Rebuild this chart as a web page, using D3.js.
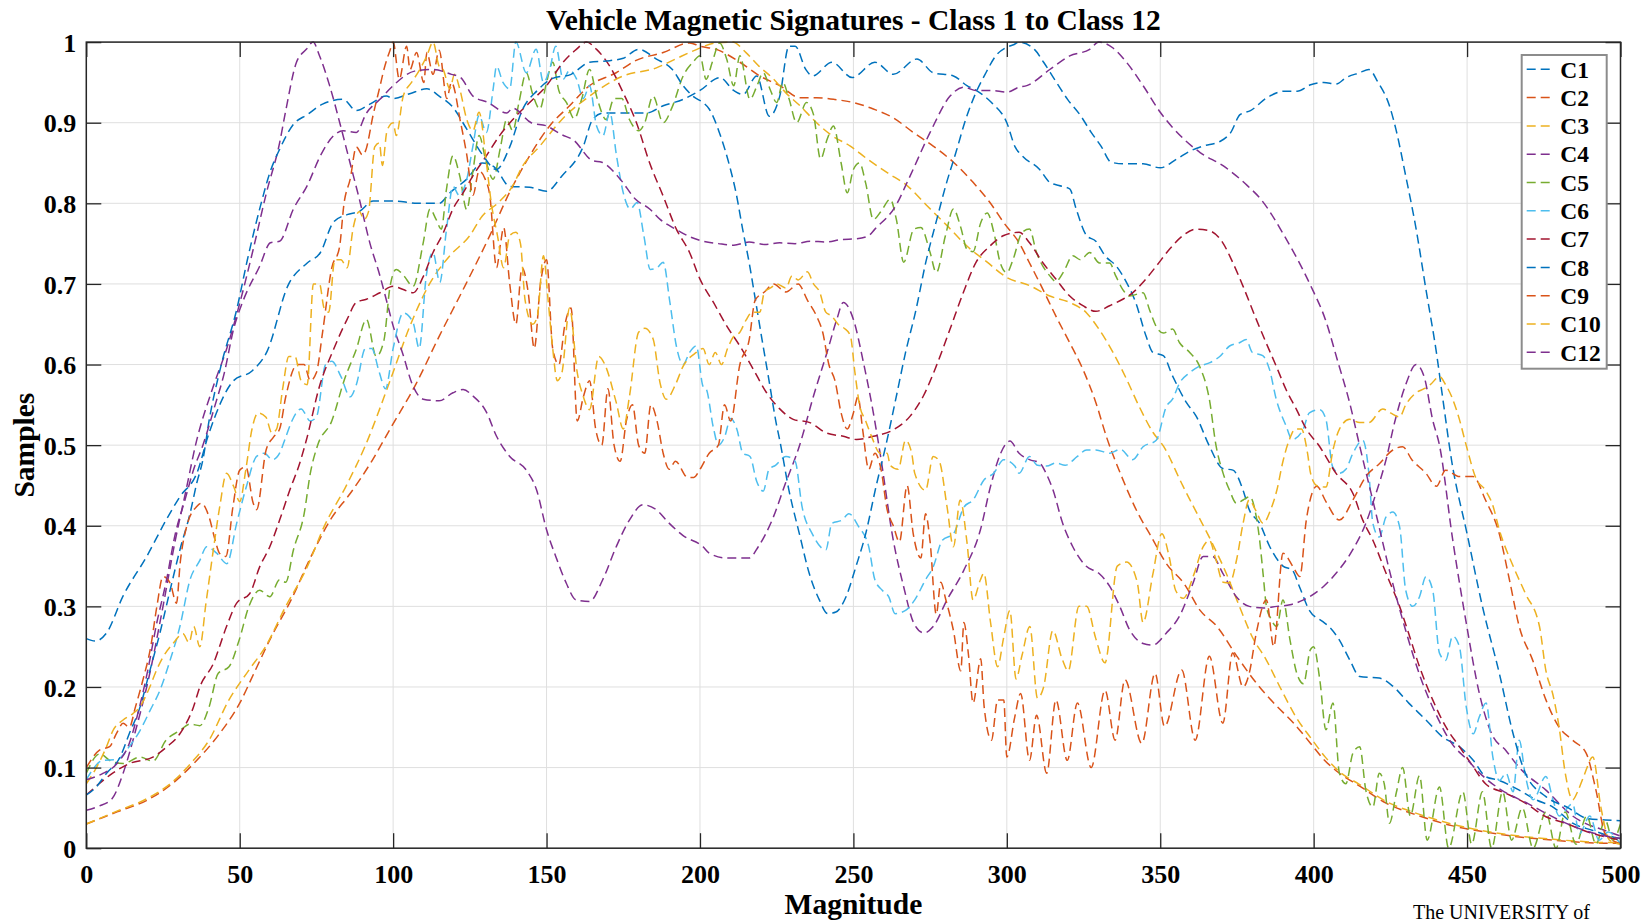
<!DOCTYPE html>
<html>
<head>
<meta charset="utf-8">
<script src="https://cdn.jsdelivr.net/npm/d3@7"></script>
<style>
  body { margin: 0; background: #fff; }
  svg { display: block; }
  text { font-family: "Liberation Serif", "Times New Roman", serif; font-weight: bold; fill: #000; }
</style>
</head>
<body>
<svg id="chart" width="1650" height="924"></svg>
<script>
// Axis ticks
const xTicks = [0, 50, 100, 150, 200, 250, 300, 350, 400, 450, 500];
const yTicks = [0, 0.1, 0.2, 0.3, 0.4, 0.5, 0.6, 0.7, 0.8, 0.9, 1];

// Legend names, in plotting order
const seriesNames = ["C1", "C2", "C3", "C4", "C5", "C6", "C7", "C8", "C9", "C10", "C12"];

// Sampled signatures: [magnitude, sample]
const c1 = [[0,0.26],[3,0.257],[6.6,0.267],[12,0.313],[19.7,0.362],[26,0.407],[30.5,0.436],[36,0.465],[40,0.515],[48,0.58],[54,0.592],[59,0.617],[65.6,0.697],[72,0.726],[76.3,0.739],[80.6,0.777],[85,0.786],[89,0.79],[93.5,0.803],[100,0.803],[108,0.8],[115,0.8],[118.5,0.813],[124,0.83],[129,0.85],[133,0.845],[138,0.821],[144.5,0.82],[150,0.815],[155,0.834],[162,0.871],[165,0.904],[168.4,0.912],[175,0.912],[182.5,0.912],[188,0.921],[194.5,0.929],[200,0.94],[206.5,0.956],[211,0.94],[214,0.935],[218.5,0.958],[222.6,0.908],[226,0.933],[229,0.995],[231,0.995],[234.5,0.966],[236.7,0.958],[243,0.975],[249.6,0.956],[257,0.975],[263,0.96],[270.7,0.979],[276,0.962],[282.6,0.958],[287,0.946],[290,0.94],[295,0.925],[300,0.9],[302.7,0.87],[305,0.859],[310.7,0.842],[314,0.826],[317,0.822],[320.5,0.818],[322.6,0.793],[326,0.76],[329,0.753],[332,0.735],[335.7,0.722],[339,0.702],[342,0.677],[345.4,0.635],[347.6,0.615],[351,0.611],[354,0.586],[358.5,0.553],[361.7,0.536],[366,0.499],[370.4,0.471],[373.7,0.469],[377,0.444],[379,0.42],[382.4,0.403],[385.7,0.374],[390,0.35],[393,0.345],[395.4,0.324],[398.6,0.295],[403,0.281],[405,0.275],[408.4,0.258],[411.7,0.234],[415,0.213],[421.4,0.211],[425.8,0.201],[431,0.18],[436.6,0.159],[442,0.138],[447.5,0.126],[452,0.109],[456,0.089],[460.5,0.084],[467,0.072],[472.5,0.06],[478,0.051],[484.4,0.031],[491,0.022],[497.5,0.014],[500,0.012]];

const c2 = [[0,0.03],[10,0.045],[20,0.06],[28,0.08],[35,0.105],[43,0.14],[50,0.18],[55,0.22],[60,0.26],[67,0.31],[73,0.36],[80,0.41],[86,0.44],[93,0.48],[99,0.52],[107.6,0.577],[115,0.635],[122.8,0.693],[131.5,0.76],[138,0.814],[144.5,0.859],[151,0.896],[157.5,0.921],[164,0.946],[172.7,0.962],[179,0.977],[188,0.987],[196.6,0.999],[200,0.995],[206,0.99],[213,0.975],[219.5,0.958],[226,0.946],[232.6,0.931],[238,0.931],[243.5,0.929],[250,0.925],[256.5,0.917],[263,0.906],[269.5,0.888],[276,0.871],[282.6,0.851],[289,0.826],[294.5,0.801],[299,0.776],[304,0.751],[307.4,0.726],[311.8,0.693],[316,0.66],[320.5,0.627],[324.8,0.594],[329,0.553],[332.5,0.51],[337,0.465],[342.8,0.415],[347,0.387],[352,0.353],[357.8,0.328],[363,0.295],[368.5,0.275],[375,0.238],[381.5,0.204],[387,0.18],[393.5,0.155],[399,0.13],[403.3,0.11],[408.4,0.093],[415,0.077],[423.6,0.056],[434.5,0.04],[445,0.028],[456,0.02],[467,0.014],[478,0.01],[497.5,0.006],[500,0.006]];

const c3 = [[0,0.03],[10,0.046],[20,0.062],[28,0.082],[34,0.105],[40,0.134],[46.5,0.184],[53,0.221],[58.4,0.25],[65,0.3],[71.5,0.345],[78,0.403],[84.5,0.448],[91,0.5],[99,0.58],[105.4,0.647],[112,0.701],[118.5,0.735],[125,0.76],[129,0.784],[134,0.8],[139,0.822],[142,0.845],[147.8,0.871],[155,0.904],[164,0.933],[175,0.958],[185.8,0.968],[192,0.979],[199,0.991],[205,0.999],[210.6,1.0],[215,0.987],[219,0.971],[224,0.954],[228,0.937],[232.6,0.921],[238,0.9],[243,0.884],[249,0.871],[254.5,0.855],[261,0.838],[267.5,0.822],[274,0.797],[280.6,0.772],[287,0.747],[293.6,0.727],[300,0.708],[307.4,0.698],[314,0.685],[320.5,0.677],[326,0.664],[330,0.644],[334.6,0.615],[339,0.582],[343,0.549],[347.6,0.516],[351,0.499],[357.3,0.45],[362.7,0.41],[367,0.378],[371.5,0.341],[375.8,0.3],[380,0.262],[384.5,0.234],[389,0.2],[394.2,0.163],[399.6,0.134],[403.8,0.113],[408.4,0.095],[415,0.079],[423.6,0.058],[434.5,0.042],[445,0.03],[456,0.021],[467,0.015],[478,0.011],[497.5,0.007],[500,0.007]];

const c4 = [[0,0.047],[4,0.052],[8.5,0.062],[12,0.093],[16,0.145],[20.7,0.217],[25,0.3],[29,0.382],[32.5,0.444],[35.6,0.5],[41.4,0.573],[45.7,0.619],[50,0.676],[54.4,0.743],[58.7,0.813],[63,0.875],[65,0.915],[68.5,0.975],[71.7,0.991],[73.9,1.0],[76,0.983],[79.3,0.946],[82.6,0.9],[85.9,0.851],[89,0.805],[92.4,0.751],[95.7,0.71],[98,0.677],[100,0.648],[103,0.615],[106.5,0.573],[109.8,0.557],[115,0.555],[119.5,0.565],[122.8,0.569],[126,0.561],[130.4,0.541],[133.7,0.511],[138,0.486],[143.4,0.469],[146.7,0.445],[150,0.395],[153,0.362],[156.4,0.329],[159.6,0.308],[164,0.306],[168.3,0.333],[172.7,0.374],[177,0.407],[181.4,0.426],[185.7,0.42],[190,0.403],[194.4,0.388],[201,0.374],[203,0.366],[208.5,0.36],[216,0.36],[219,0.374],[223.5,0.407],[227.8,0.452],[232.4,0.499],[237,0.561],[241.4,0.615],[244.6,0.656],[246.7,0.677],[250,0.656],[253.3,0.602],[256.5,0.54],[258.7,0.49],[263,0.382],[266.4,0.324],[269.7,0.279],[273,0.267],[276,0.275],[280.5,0.308],[286,0.345],[291.4,0.395],[294.7,0.449],[298,0.49],[301,0.505],[304,0.49],[307.4,0.482],[310.7,0.478],[312.8,0.465],[315,0.445],[318.2,0.403],[321.5,0.374],[325.8,0.35],[330,0.341],[333.5,0.325],[336.8,0.3],[340,0.271],[344.4,0.254],[347.6,0.252],[352,0.267],[356.3,0.288],[360.7,0.329],[364,0.362],[367,0.362],[370.4,0.341],[374.8,0.312],[379,0.3],[383.6,0.298],[388,0.3],[392.3,0.302],[396.7,0.308],[403.3,0.325],[407.3,0.341],[412.7,0.37],[417,0.403],[420.3,0.44],[423.6,0.482],[426.5,0.53],[430,0.575],[433.4,0.6],[436,0.585],[438.8,0.531],[441,0.5],[445.3,0.383],[449.7,0.28],[454,0.192],[458,0.142],[462.7,0.121],[467,0.1],[475.7,0.072],[484.4,0.04],[496.4,0.02],[500,0.015]];

const c5 = [[0,0.093],[4.4,0.117],[8,0.108],[12,0.105],[17.5,0.113],[21.7,0.108],[26,0.134],[30.5,0.146],[33.8,0.154],[37,0.152],[40,0.175],[43,0.217],[46.5,0.225],[49.8,0.258],[53,0.3],[56.5,0.32],[59.8,0.312],[63,0.333],[65,0.33],[67.5,0.37],[71,0.415],[73,0.465],[75.4,0.5],[80,0.53],[84,0.58],[88,0.619],[91.3,0.656],[94.5,0.61],[97,0.63],[99,0.697],[101,0.718],[103.5,0.71],[106.5,0.697],[109.8,0.751],[112,0.793],[114,0.78],[115.7,0.768],[117.4,0.818],[119.5,0.859],[121.7,0.834],[124,0.792],[126,0.84],[128,0.884],[130.4,0.85],[132.6,0.83],[135,0.87],[137,0.904],[139,0.89],[141,0.925],[143.4,0.962],[145.5,0.935],[147.8,0.917],[150,0.95],[152,0.975],[154,0.94],[156.5,0.925],[159,0.905],[161.5,0.93],[164,0.966],[166.5,0.93],[169.4,0.904],[172,0.93],[174.5,0.93],[177,0.904],[180,0.89],[182,0.9],[184.7,0.933],[188,0.9],[191,0.92],[194.5,0.958],[197.7,0.975],[200,0.983],[202,0.954],[204,0.975],[206.4,0.999],[208.7,0.979],[211,0.946],[213,0.983],[216.3,0.929],[218.5,0.945],[220.6,0.962],[223,0.94],[225,0.925],[227,0.95],[229,0.93],[231.5,0.9],[234.7,0.925],[237,0.91],[239.3,0.855],[241.5,0.88],[243.5,0.896],[246,0.85],[248,0.813],[250,0.842],[252,0.85],[254,0.825],[256.5,0.78],[259,0.79],[262,0.805],[264,0.78],[266.4,0.727],[269.7,0.768],[272,0.77],[275,0.739],[277,0.714],[280,0.76],[282.6,0.793],[285,0.77],[287,0.743],[289,0.74],[291.5,0.776],[293.6,0.788],[296,0.76],[297.8,0.727],[300,0.714],[302,0.73],[305,0.764],[307.4,0.768],[309.6,0.74],[314,0.71],[316,0.703],[318.5,0.715],[321.5,0.735],[324,0.73],[327,0.739],[330.2,0.726],[333.5,0.726],[335.5,0.71],[337.8,0.693],[340,0.685],[344.4,0.689],[346.5,0.668],[348.7,0.647],[351,0.639],[354,0.644],[356.3,0.627],[359.6,0.615],[362.8,0.598],[366,0.557],[368.2,0.499],[370.5,0.465],[372.6,0.444],[374.8,0.428],[377,0.432],[379.2,0.436],[381.3,0.411],[382.4,0.382],[383.5,0.341],[384.6,0.3],[386,0.285],[388,0.275],[390,0.308],[392.3,0.258],[394.5,0.217],[396.7,0.204],[398.9,0.246],[400,0.25],[402,0.209],[404,0.147],[406.3,0.18],[408.4,0.093],[410.5,0.08],[412.8,0.118],[415,0.126],[417,0.072],[419.3,0.051],[421.4,0.093],[423,0.08],[424.7,0.031],[427,0.07],[429,0.1],[431.5,0.04],[434.5,0.09],[437,0.01],[441,0.076],[444,0.0],[448.6,0.07],[451.5,0.005],[455,0.07],[458,0.0],[461.6,0.07],[464.5,0.01],[468,0.05],[471.5,0.0],[475.7,0.045],[479,0.0],[482,0.045],[485.5,0.005],[489,0.04],[492,0.005],[495,0.035],[497.5,0.01],[500,0.03]];

const c6 = [[0,0.085],[5.5,0.109],[10,0.11],[14,0.126],[17.5,0.146],[20.8,0.171],[24,0.196],[27.3,0.233],[30.5,0.275],[33.8,0.333],[37,0.357],[39.2,0.374],[42.5,0.366],[45.8,0.353],[49,0.403],[52.2,0.449],[55.5,0.486],[58,0.49],[60.7,0.482],[63,0.49],[65,0.51],[67,0.53],[70,0.545],[73,0.53],[75,0.535],[78,0.6],[80,0.604],[83,0.585],[86,0.56],[88,0.575],[91,0.62],[93,0.62],[95.5,0.59],[97.5,0.57],[100,0.62],[103.3,0.664],[106.5,0.652],[108.5,0.62],[110.8,0.71],[113,0.739],[115.2,0.702],[117.4,0.768],[119.5,0.821],[121.5,0.81],[124,0.83],[126,0.871],[128,0.909],[130.4,0.888],[132.6,0.942],[133.7,0.97],[135.8,0.95],[138,0.942],[140,1.0],[143.4,0.962],[146.6,0.991],[149,0.95],[151,0.966],[153,0.995],[155.4,0.954],[157.5,0.965],[159.8,0.954],[162,0.93],[164,0.946],[166.3,0.896],[168.4,0.884],[170.6,0.913],[172.8,0.859],[175,0.813],[177.3,0.793],[179.5,0.801],[181.7,0.76],[183.8,0.718],[186,0.72],[188,0.727],[190.2,0.677],[192.3,0.623],[194.5,0.6],[196.6,0.615],[198.8,0.623],[201,0.573],[202,0.57],[204.4,0.521],[206,0.5],[208,0.51],[210,0.533],[212,0.52],[214,0.49],[216.3,0.486],[218.5,0.455],[220.6,0.443],[222.5,0.47],[224.6,0.475],[228,0.486],[231,0.48],[233.3,0.423],[236.6,0.39],[241,0.37],[243,0.403],[246.3,0.407],[248.5,0.415],[251.7,0.399],[255,0.374],[257,0.333],[259.4,0.32],[261.5,0.312],[263.6,0.291],[267,0.295],[270,0.308],[273.5,0.333],[276,0.349],[279,0.382],[282.6,0.39],[286,0.423],[289,0.432],[292.6,0.457],[295.7,0.465],[299,0.482],[302.6,0.474],[304,0.465],[307.4,0.486],[310,0.475],[313,0.474],[316,0.478],[319,0.475],[323,0.486],[326,0.494],[329,0.494],[333.6,0.49],[337,0.495],[341,0.482],[344.4,0.498],[348.7,0.506],[352,0.548],[354,0.557],[356.3,0.577],[359.6,0.59],[362.8,0.598],[366,0.602],[369.4,0.61],[372.6,0.623],[375.8,0.627],[378,0.631],[380,0.615],[383.4,0.611],[385.6,0.594],[387.8,0.557],[391,0.524],[393,0.507],[396.5,0.519],[398.6,0.54],[402,0.544],[404,0.532],[406.2,0.473],[408.4,0.465],[410.5,0.47],[412.8,0.49],[416,0.506],[418,0.465],[419.3,0.403],[421.4,0.386],[423.6,0.411],[425.8,0.417],[428,0.399],[430,0.32],[432.3,0.3],[434.5,0.312],[436.6,0.337],[438.8,0.32],[441,0.242],[443,0.233],[445.3,0.263],[447.5,0.25],[449.7,0.176],[452,0.142],[454,0.163],[456.2,0.18],[458.4,0.113],[460.5,0.084],[462.7,0.093],[465,0.07],[467,0.134],[469,0.09],[471.5,0.06],[475.7,0.089],[478,0.06],[480,0.04],[484.4,0.055],[486.6,0.018],[490,0.04],[493,0.01],[496,0.02],[500,0.005]];

const c7 = [[0,0.066],[8.6,0.093],[14,0.105],[21.7,0.113],[26,0.125],[30.5,0.142],[34.9,0.175],[37,0.2],[41.4,0.229],[45.7,0.275],[49,0.304],[53.3,0.316],[56.5,0.349],[59.8,0.374],[63,0.407],[66.3,0.444],[69.5,0.477],[71.7,0.506],[76,0.573],[80.6,0.619],[85,0.656],[88,0.677],[91.3,0.681],[95.7,0.689],[100,0.697],[103.3,0.693],[106.5,0.689],[109.8,0.709],[113,0.739],[116.3,0.763],[119.5,0.793],[122.8,0.813],[126,0.834],[130.4,0.859],[134.7,0.884],[139,0.904],[144.5,0.925],[150,0.946],[155.4,0.975],[159.7,0.991],[163,1.0],[166.3,0.991],[170.6,0.97],[175,0.937],[179.3,0.9],[183.6,0.85],[188,0.809],[192.3,0.768],[196.6,0.739],[200,0.706],[204.4,0.677],[208.7,0.648],[213,0.623],[217.4,0.594],[221.7,0.565],[226,0.545],[230.4,0.532],[235.8,0.528],[241.3,0.515],[246.7,0.511],[251,0.507],[256.5,0.511],[263,0.519],[268.5,0.536],[272.8,0.561],[277,0.598],[281.5,0.644],[285.8,0.689],[290,0.727],[294.5,0.747],[299,0.76],[304,0.764],[307.4,0.751],[311.8,0.726],[316,0.706],[320.5,0.685],[324.8,0.673],[329,0.666],[333.5,0.673],[337.8,0.681],[341,0.689],[344.4,0.702],[348.7,0.722],[353,0.743],[357.4,0.76],[361.7,0.768],[366,0.766],[370.4,0.751],[373.7,0.726],[377,0.697],[381.3,0.656],[384.5,0.627],[387.8,0.598],[391,0.569],[394.3,0.545],[397.6,0.52],[402,0.498],[407.3,0.465],[412.8,0.44],[416,0.407],[419.3,0.382],[423.6,0.341],[428,0.3],[431,0.266],[434.5,0.225],[438.8,0.184],[443,0.151],[447.5,0.126],[452,0.101],[456,0.08],[462.7,0.068],[469,0.056],[475.7,0.039],[482,0.031],[491,0.018],[497.5,0.012],[500,0.01]];

const c8 = [[0,0.066],[3,0.075],[6.6,0.093],[11,0.113],[14,0.142],[17.5,0.175],[20.7,0.22],[24,0.267],[27.3,0.32],[30.5,0.37],[33.8,0.415],[36,0.453],[38,0.482],[40,0.53],[44,0.6],[49,0.668],[52.5,0.73],[56.5,0.793],[60,0.84],[63,0.867],[67.5,0.898],[72,0.91],[77,0.923],[83.7,0.929],[88,0.915],[92.4,0.923],[97.8,0.933],[100,0.93],[105.4,0.936],[111,0.942],[115,0.933],[119.5,0.919],[124,0.892],[129,0.861],[133.6,0.842],[138,0.87],[142,0.915],[147,0.94],[152,0.955],[158,0.96],[164,0.975],[170.6,0.977],[175,0.98],[180,0.991],[185.8,0.979],[191,0.966],[194.5,0.946],[198,0.932],[201,0.925],[203,0.917],[206.3,0.888],[209.6,0.847],[211.7,0.814],[213.9,0.768],[216,0.727],[218.2,0.677],[220.4,0.627],[222.6,0.578],[224.8,0.528],[226,0.506],[229,0.444],[232.4,0.39],[235.6,0.341],[238.9,0.308],[241.6,0.291],[244.3,0.293],[247.6,0.312],[250.8,0.349],[254,0.39],[257.4,0.449],[260.6,0.5],[263.8,0.557],[267,0.615],[270.4,0.668],[273.6,0.727],[276.9,0.776],[280.1,0.822],[283.4,0.863],[286.6,0.904],[289.9,0.937],[293.2,0.962],[296.4,0.983],[299.7,0.993],[302.4,0.997],[304,1.0],[309,0.991],[312,0.975],[315.5,0.954],[319.8,0.929],[324,0.909],[327.5,0.888],[330.7,0.871],[334,0.851],[338,0.849],[344.4,0.849],[350,0.844],[355.4,0.855],[359.8,0.865],[364,0.871],[369.6,0.877],[373,0.888],[376,0.91],[379.4,0.915],[384.8,0.931],[390.3,0.939],[394.6,0.939],[399,0.947],[403.3,0.95],[407.3,0.948],[410.6,0.956],[415,0.962],[418,0.966],[421,0.95],[424.7,0.921],[426.8,0.892],[430,0.834],[433.4,0.768],[436.6,0.693],[440,0.615],[442,0.56],[445,0.48],[450,0.39],[455,0.3],[460.5,0.217],[465,0.142],[469,0.093],[475.7,0.064],[483,0.05],[489,0.037],[495,0.035],[500,0.034]];

const c9 = [[0,0.1],[4.4,0.122],[7.6,0.126],[9.8,0.142],[12,0.155],[14,0.15],[16,0.175],[18.4,0.208],[21,0.25],[23,0.3],[25,0.337],[27.3,0.329],[29.4,0.304],[30.6,0.354],[32.7,0.399],[36,0.424],[37.5,0.428],[40,0.411],[42,0.382],[43.4,0.366],[45.5,0.362],[47.8,0.424],[50,0.469],[52,0.473],[54.4,0.428],[55.5,0.42],[58.6,0.494],[61,0.51],[63,0.52],[65,0.56],[68.7,0.6],[71,0.6],[73,0.58],[75,0.59],[77,0.64],[80,0.72],[82.5,0.745],[84,0.8],[86,0.83],[88,0.87],[90,0.86],[91,0.865],[93.5,0.91],[95.7,0.945],[97,0.966],[99,0.99],[100,1.0],[102,0.954],[104.4,0.995],[105.5,0.966],[107.6,0.987],[110,0.95],[111,0.987],[113,0.96],[115,0.99],[117.5,0.93],[119,0.95],[122,0.9],[124,0.86],[126,0.81],[128,0.84],[130,0.83],[131.5,0.81],[133.7,0.72],[135,0.75],[136,0.77],[138,0.7],[140,0.65],[142,0.72],[144,0.69],[146,0.62],[148,0.7],[150,0.73],[152,0.62],[154,0.6],[156,0.65],[158,0.67],[160,0.53],[162,0.56],[164,0.58],[166,0.52],[168,0.5],[170,0.57],[172,0.5],[174,0.48],[176,0.53],[178,0.55],[180,0.5],[182,0.49],[184,0.55],[186,0.53],[188,0.49],[190,0.47],[192,0.48],[196,0.46],[198,0.46],[200,0.47],[203,0.49],[206,0.5],[208,0.55],[210,0.53],[213,0.6],[216,0.63],[218,0.68],[221,0.69],[224,0.7],[228,0.69],[232,0.7],[235,0.68],[238,0.66],[240,0.64],[242,0.6],[244,0.58],[246,0.54],[248,0.52],[250,0.54],[251.5,0.56],[253,0.52],[255,0.47],[257,0.49],[259,0.47],[261,0.42],[263,0.4],[265,0.38],[267.5,0.45],[269.5,0.39],[272,0.36],[273.5,0.415],[275,0.38],[277,0.29],[278.5,0.33],[280,0.31],[282.6,0.27],[285,0.22],[286,0.28],[287.5,0.24],[289,0.18],[291.5,0.235],[292.6,0.176],[295,0.134],[297,0.184],[299,0.184],[300,0.113],[302.6,0.163],[304.5,0.192],[307.4,0.109],[309.7,0.165],[313,0.093],[316,0.184],[319.7,0.109],[323,0.18],[327.5,0.1],[332,0.196],[335.3,0.134],[338.5,0.209],[344,0.13],[348.3,0.217],[351.4,0.151],[357,0.221],[361.4,0.134],[366,0.238],[370.4,0.155],[373.6,0.242],[377,0.2],[379,0.217],[381.3,0.267],[384.6,0.308],[387,0.25],[390,0.366],[393.3,0.349],[395.5,0.337],[397.6,0.407],[401,0.449],[404,0.43],[408.4,0.407],[412.8,0.432],[417,0.461],[421.4,0.477],[425.8,0.494],[429,0.498],[432,0.482],[436.6,0.465],[440,0.449],[443,0.469],[447.5,0.461],[452,0.461],[456,0.432],[460.5,0.39],[463.8,0.333],[467,0.275],[471.4,0.233],[475.7,0.184],[480,0.15],[484.4,0.134],[488.8,0.118],[492,0.072],[495,0.018],[499.6,0.006]];

const c10 = [[0,0.08],[3.3,0.1],[6.6,0.126],[8.7,0.146],[12,0.159],[15.2,0.167],[17.4,0.175],[20.7,0.2],[22.9,0.221],[25,0.237],[28.3,0.254],[31.5,0.266],[33.5,0.255],[35,0.275],[37,0.25],[39,0.304],[41.4,0.37],[43.5,0.424],[45.7,0.465],[48,0.449],[50,0.43],[52,0.47],[54,0.52],[56,0.54],[58.5,0.535],[60.5,0.515],[62,0.52],[64,0.57],[66,0.61],[68,0.61],[70,0.58],[72,0.575],[74,0.7],[76,0.7],[77.5,0.67],[79,0.665],[81,0.73],[83,0.73],[85,0.72],[87,0.77],[89,0.79],[90.5,0.78],[92,0.79],[94,0.87],[95.5,0.875],[96.5,0.847],[98,0.89],[100,0.9],[101,0.884],[103.3,0.933],[106,0.95],[108.7,0.966],[111,0.983],[113,1.0],[115,0.97],[116.3,0.966],[118.5,0.942],[120,0.96],[121.7,0.942],[124,0.904],[126,0.89],[128,0.913],[130.4,0.85],[132,0.8],[134,0.76],[136,0.72],[138,0.76],[140,0.764],[141.5,0.75],[143,0.68],[145.5,0.65],[147,0.66],[149,0.735],[150.5,0.68],[152,0.62],[153.5,0.58],[155,0.59],[157.5,0.67],[160,0.59],[162,0.56],[164,0.544],[167,0.61],[169,0.6],[172.7,0.553],[175,0.52],[177,0.56],[180,0.64],[182,0.645],[184.7,0.632],[187,0.577],[189,0.557],[192,0.575],[194.4,0.597],[198.8,0.615],[201,0.62],[203,0.6],[205,0.615],[207,0.6],[209,0.62],[211,0.635],[213,0.64],[215,0.655],[217,0.665],[219.5,0.665],[221,0.69],[223,0.695],[225,0.7],[228,0.695],[230,0.71],[232,0.705],[235,0.715],[237,0.7],[239,0.69],[241,0.665],[243,0.66],[245,0.65],[247,0.645],[249,0.636],[250.5,0.59],[252,0.55],[254,0.53],[256,0.51],[258.7,0.49],[261,0.49],[262,0.475],[264.6,0.47],[267,0.506],[269,0.49],[270,0.465],[273.5,0.444],[276,0.486],[278,0.48],[280.5,0.424],[282.6,0.374],[284.8,0.432],[287,0.38],[289,0.308],[291.4,0.333],[292.5,0.341],[294.7,0.28],[297,0.225],[299,0.262],[301,0.295],[303,0.21],[305,0.24],[307.5,0.275],[310,0.186],[312,0.2],[315,0.27],[318,0.235],[320,0.22],[323.5,0.3],[326,0.3],[329,0.26],[332,0.23],[336,0.35],[339,0.355],[342.5,0.33],[344.4,0.28],[347.6,0.34],[350.5,0.39],[353,0.36],[355,0.32],[357.5,0.31],[361,0.34],[364,0.374],[366,0.382],[368,0.36],[370.5,0.33],[372.6,0.329],[375,0.36],[377,0.403],[379,0.432],[381,0.42],[383.5,0.403],[386,0.42],[388,0.444],[390,0.48],[392,0.506],[394,0.52],[396,0.52],[398,0.49],[399,0.465],[401,0.45],[404,0.448],[406.3,0.494],[408.4,0.52],[411.7,0.532],[415,0.528],[418,0.528],[422.5,0.545],[425,0.54],[428,0.535],[430,0.55],[433.4,0.565],[436,0.57],[438,0.575],[441,0.585],[443,0.575],[445,0.56],[447.5,0.532],[449.7,0.5],[453,0.458],[456,0.444],[458.4,0.425],[460.5,0.395],[465,0.35],[469,0.316],[473.6,0.275],[475.7,0.22],[478,0.19],[480,0.15],[482,0.093],[484.4,0.06],[486,0.07],[488,0.089],[491,0.113],[493.6,0.051],[496.4,0.01],[500,0.005]];

const c12 = [[0,0.085],[5,0.092],[10,0.105],[14,0.13],[17,0.17],[20,0.22],[23,0.28],[26,0.33],[29,0.39],[32,0.43],[35,0.47],[38,0.5],[42,0.55],[45,0.59],[48,0.644],[51.2,0.68],[56.5,0.722],[60,0.751],[63,0.753],[67.5,0.793],[72,0.822],[76.3,0.859],[80.6,0.884],[83.7,0.89],[88,0.888],[91.3,0.912],[95.7,0.929],[100,0.946],[107,0.964],[113,0.966],[119,0.96],[122,0.956],[126,0.933],[131,0.925],[137,0.912],[139,0.918],[145,0.9],[150,0.896],[155,0.885],[158.6,0.879],[165,0.853],[168,0.851],[174,0.83],[179,0.805],[183.6,0.793],[187,0.78],[192,0.768],[197,0.758],[201,0.753],[206,0.75],[211,0.748],[216,0.752],[221,0.749],[226,0.751],[231,0.75],[236,0.753],[241,0.752],[246,0.755],[251,0.756],[255,0.76],[257,0.768],[263.8,0.797],[268,0.83],[275,0.888],[281.5,0.933],[286,0.944],[290,0.94],[295,0.94],[300,0.938],[304,0.944],[306.5,0.946],[314,0.966],[320.5,0.983],[327,0.991],[330,1.0],[334.5,0.993],[339,0.975],[344.4,0.946],[350,0.913],[357.6,0.88],[363,0.863],[370.7,0.846],[378.4,0.822],[382.8,0.805],[390.4,0.76],[399,0.698],[403.8,0.656],[408,0.602],[411.7,0.553],[415,0.499],[420,0.42],[425,0.34],[430,0.27],[435,0.21],[440,0.165],[445,0.13],[450,0.11],[455,0.09],[460,0.075],[470,0.055],[480,0.035],[490,0.02],[500,0.012]];

// MATLAB default line colours
const seriesColors = ["#0072BD", "#D95319", "#EDB120", "#7E2F8E", "#77AC30", "#4DBEEE", "#A2142F", "#0072BD", "#D95319", "#EDB120", "#7E2F8E"];
const seriesData = [c1, c2, c3, c4, c5, c6, c7, c8, c9, c10, c12];

const plot = { left: 86.3, right: 1620.5, top: 42.1, bottom: 848.2 };
const svg = d3.select("#chart");

const x = d3.scaleLinear().domain([0, 500]).range([plot.left, plot.right]);
const y = d3.scaleLinear().domain([0, 1]).range([plot.bottom, plot.top]);

// Grid
const grid = svg.append("g").attr("stroke", "#dfdfdf").attr("stroke-width", 1);
grid.selectAll("line.gx").data(xTicks).join("line")
  .attr("x1", d => x(d)).attr("x2", d => x(d))
  .attr("y1", plot.top).attr("y2", plot.bottom);
grid.selectAll("line.gy").data(yTicks).join("line")
  .attr("x1", plot.left).attr("x2", plot.right)
  .attr("y1", d => y(d)).attr("y2", d => y(d));

// Signature lines
svg.append("clipPath").attr("id", "plotClip").append("rect")
  .attr("x", plot.left).attr("y", plot.top - 1)
  .attr("width", plot.right - plot.left).attr("height", plot.bottom - plot.top + 2);

const line = d3.line().x(d => x(d[0])).y(d => y(d[1])).curve(d3.curveMonotoneX);
const lines = svg.append("g").attr("clip-path", "url(#plotClip)");
seriesData.forEach((pts, i) => {
  lines.append("path")
    .attr("d", line(pts))
    .attr("fill", "none")
    .attr("stroke", seriesColors[i])
    .attr("stroke-width", 1.5)
    .attr("stroke-dasharray", "9,5");
});

// Axes (ticks on all four sides, pointing inward)
const tickLen = 15;
const axisColor = "#262626";
function styleAxis(g) {
  g.selectAll(".domain").remove();
  g.selectAll(".tick line").attr("stroke", axisColor).attr("stroke-width", 1.3);
}
const gx = svg.append("g").attr("transform", `translate(0,${plot.bottom})`)
  .call(d3.axisBottom(x).tickValues(xTicks).tickSizeInner(-tickLen).tickSizeOuter(0).tickFormat(d3.format("d")));
styleAxis(gx);
gx.selectAll(".tick text").attr("y", 35).attr("dy", 0)
  .style("font-size", "26px").style("font-family", "'Liberation Serif', serif").style("font-weight", "bold").attr("fill", "#000");

const gy = svg.append("g").attr("transform", `translate(${plot.left},0)`)
  .call(d3.axisLeft(y).tickValues(yTicks).tickSizeInner(-tickLen).tickSizeOuter(0).tickFormat(d => d === 0 ? "0" : d === 1 ? "1" : d3.format(".1f")(d)));
styleAxis(gy);
gy.selectAll(".tick text").attr("x", -10).attr("dy", "0.35em")
  .style("font-size", "26px").style("font-family", "'Liberation Serif', serif").style("font-weight", "bold").attr("fill", "#000");

const gt = svg.append("g").attr("transform", `translate(0,${plot.top})`)
  .call(d3.axisTop(x).tickValues(xTicks).tickSizeInner(-tickLen).tickSizeOuter(0).tickFormat(""));
styleAxis(gt);
const gr = svg.append("g").attr("transform", `translate(${plot.right},0)`)
  .call(d3.axisRight(y).tickValues(yTicks).tickSizeInner(-tickLen).tickSizeOuter(0).tickFormat(""));
styleAxis(gr);

svg.append("rect")
  .attr("x", plot.left).attr("y", plot.top)
  .attr("width", plot.right - plot.left).attr("height", plot.bottom - plot.top)
  .attr("fill", "none").attr("stroke", axisColor).attr("stroke-width", 1.5);

// Titles
svg.append("text").attr("x", (plot.left + plot.right) / 2).attr("y", 30)
  .attr("text-anchor", "middle").style("font-size", "29.5px")
  .text("Vehicle Magnetic Signatures - Class 1 to Class 12");
svg.append("text").attr("x", (plot.left + plot.right) / 2).attr("y", 914)
  .attr("text-anchor", "middle").style("font-size", "29.5px")
  .text("Magnitude");
svg.append("text").attr("transform", `translate(33.5,${(plot.top + plot.bottom) / 2}) rotate(-90)`)
  .attr("text-anchor", "middle").style("font-size", "29.5px")
  .text("Samples");

// Legend
const lg = { x: 1521.7, y: 55, w: 85, h: 313.7, row0: 69.3, step: 28.3 };
const legend = svg.append("g");
legend.append("rect").attr("x", lg.x).attr("y", lg.y).attr("width", lg.w).attr("height", lg.h)
  .attr("fill", "#fff").attr("stroke", "#8c8c8c").attr("stroke-width", 2);
seriesNames.forEach((name, i) => {
  const cy = lg.row0 + i * lg.step;
  legend.append("line").attr("x1", lg.x + 5).attr("x2", lg.x + 32)
    .attr("y1", cy).attr("y2", cy)
    .attr("stroke", seriesColors[i]).attr("stroke-width", 1.5).attr("stroke-dasharray", "9,5");
  legend.append("text").attr("x", lg.x + 38.5).attr("y", cy).attr("dy", "0.35em")
    .style("font-size", "23.5px").text(name);
});

// Footer mark in the lower right corner
svg.append("text").attr("x", 1413).attr("y", 919)
  .style("font-size", "20px").style("font-weight", "normal").attr("fill", "#b01c2e")
  .text("The UNIVERSITY of");
</script>
</body>
</html>
